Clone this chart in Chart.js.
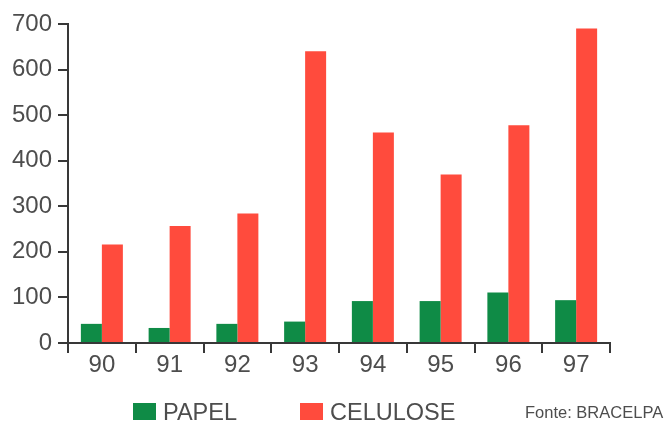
<!DOCTYPE html>
<html lang="pt">
<head>
<meta charset="utf-8">
<title>Papel e Celulose</title>
<script src="https://cdn.jsdelivr.net/npm/chart.js@4/dist/chart.umd.min.js"></script>
<style>
  html, body { margin: 0; padding: 0; background: #ffffff; }
  #wrap { width: 668px; height: 422px; position: relative; }
</style>
</head>
<body>
<div id="wrap"><canvas id="c" width="668" height="422"></canvas></div>
<script>
// Anos (eixo X)
const years = ['90', '91', '92', '93', '94', '95', '96', '97'];
// Séries
const papel = [42, 33, 42, 47, 92, 92, 111, 94];
const celulose = [216, 257, 284, 640, 462, 370, 478, 690];
// Escala do eixo Y
const yTicks = [0, 100, 200, 300, 400, 500, 600, 700];
const sourceText = 'Fonte: BRACELPA';

const GREEN = '#0f8b46';
const RED = '#ff4b3d';
const TEXT = '#4d4d4d';
const AXIS = '#383838';
const FONT = '"Liberation Sans", Arial, sans-serif';

// Legenda desenhada abaixo do eixo, com a fonte à direita
const bottomLegend = {
  id: 'bottomLegend',
  afterDraw(chart) {
    const ctx = chart.ctx;
    const ds = chart.data.datasets;
    const items = [
      { box: 133, text: 163 },
      { box: 300, text: 330 }
    ];
    ctx.save();
    ctx.textBaseline = 'alphabetic';
    ctx.textAlign = 'left';
    ds.forEach((d, i) => {
      ctx.fillStyle = d.backgroundColor;
      ctx.fillRect(items[i].box, 403, 23, 17);
      ctx.fillStyle = TEXT;
      ctx.font = '23.5px ' + FONT;
      ctx.fillText(d.label, items[i].text, 420);
    });
    ctx.font = '16.5px ' + FONT;
    ctx.fillStyle = TEXT;
    ctx.fillText(sourceText, 525, 418);
    ctx.restore();
  }
};

new Chart(document.getElementById('c'), {
  type: 'bar',
  data: {
    labels: years,
    datasets: [
      { label: 'PAPEL', data: papel, backgroundColor: GREEN, borderWidth: 0 },
      { label: 'CELULOSE', data: celulose, backgroundColor: RED, borderWidth: 0 }
    ]
  },
  options: {
    responsive: false,
    animation: false,
    devicePixelRatio: 1,
    layout: { padding: { left: 0, right: 58, top: 24, bottom: 39 } },
    datasets: { bar: { categoryPercentage: 0.62, barPercentage: 1.0 } },
    plugins: {
      legend: { display: false },
      tooltip: { enabled: false }
    },
    scales: {
      x: {
        offset: true,
        grid: {
          offset: true,
          drawOnChartArea: false,
          drawTicks: true,
          tickLength: 10,
          color: AXIS,
          lineWidth: 2
        },
        border: { display: true, color: AXIS, width: 2 },
        ticks: {
          color: TEXT,
          font: { family: FONT, size: 24 },
          padding: -2,
          maxRotation: 0
        },
        afterFit(scale) { scale.height = 40; }
      },
      y: {
        min: 0,
        max: 700,
        afterBuildTicks(scale) { scale.ticks = yTicks.map(v => ({ value: v })); },
        grid: {
          drawOnChartArea: false,
          drawTicks: true,
          tickLength: 10,
          color: AXIS,
          lineWidth: 2
        },
        border: { display: true, color: AXIS, width: 2 },
        ticks: {
          color: TEXT,
          font: { family: FONT, size: 24 },
          padding: 6
        },
        afterFit(scale) { scale.width = 68; }
      }
    }
  },
  plugins: [bottomLegend]
});
</script>
</body>
</html>
